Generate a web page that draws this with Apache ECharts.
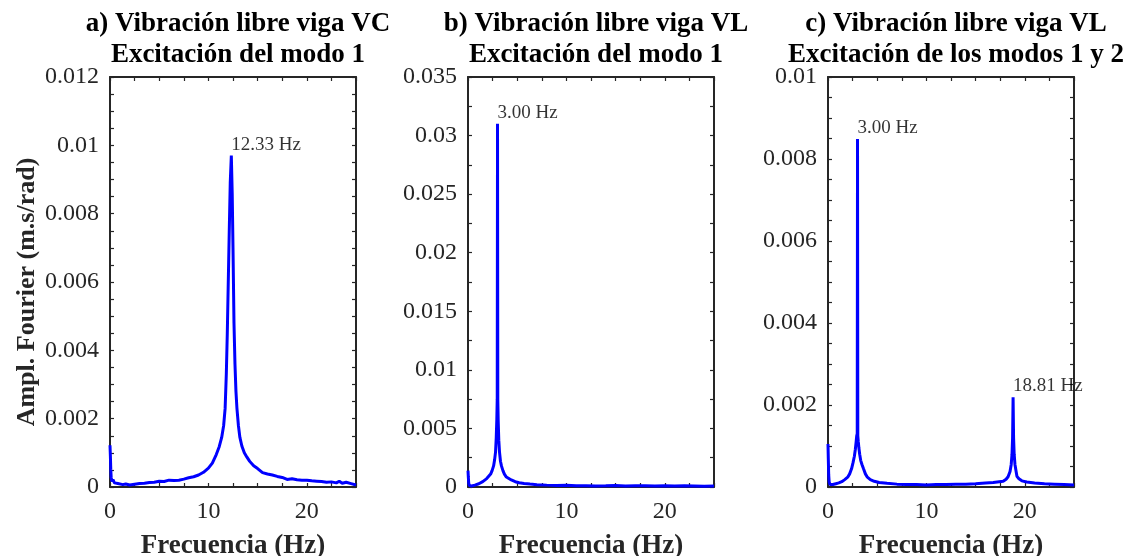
<!DOCTYPE html>
<html>
<head>
<meta charset="utf-8">
<title>Espectros de Fourier</title>
<script src="https://cdn.jsdelivr.net/npm/echarts@6/dist/echarts.min.js"></script>
<style>
  html, body { margin: 0; padding: 0; background: #fff; }
  #chart { width: 1123px; height: 556px; }
</style>
</head>
<body>
<div id="chart"></div>
<script>
// Panel titles (two lines each)
const titles = [
  'a) Vibración libre viga VC\nExcitación del modo 1',
  'b) Vibración libre viga VL\nExcitación del modo 1',
  'c) Vibración libre viga VL\nExcitación de los modos 1 y 2'
];
const xName = 'Frecuencia (Hz)';
const yName = 'Ampl. Fourier (m.s/rad)';

// Axis ranges and tick steps: [max, tick step, labelled step]
const xRange = [25, 2.5, 10];
const yRanges = [
  [0.012, 0.0005, 0.002],
  [0.035, 0.0025, 0.005],
  [0.01, 0.0005, 0.002]
];

// a) Beam VC, mode 1 excitation: frequency (Hz) and Fourier amplitude
const freqA = [0, 0.04, 0.08, 0.12, 0.2, 0.3, 0.45, 0.6, 0.8, 1.0, 1.3, 1.6, 2.0, 2.5, 3.0, 3.5, 4.0, 4.5, 5.0, 5.5, 6.0, 6.5, 7.0, 7.5, 8.0, 8.5, 9.0, 9.5, 10.0, 10.4, 10.8, 11.1, 11.35, 11.55, 11.7, 11.82, 11.92, 12.02, 12.12, 12.22, 12.33, 12.42, 12.5, 12.6, 12.7, 12.8, 12.9, 13.05, 13.2, 13.4, 13.65, 13.9, 14.2, 14.6, 15.0, 15.5, 16.0, 16.5, 17.0, 17.5, 18.0, 18.5, 19.0, 19.5, 20.0, 20.5, 21.0, 21.5, 22.0, 22.5, 23.0, 23.3, 23.6, 24.0, 24.5, 25.0];
const ampA = [0.00122, 0.0009, 0.0005, 0.00028, 0.00016, 0.00022, 0.00012, 0.00016, 0.0001, 0.00012, 0.00007, 0.00009, 0.00006, 0.00008, 0.0001, 0.00011, 0.00013, 0.00014, 0.00017, 0.00016, 0.0002, 0.00019, 0.0002, 0.00023, 0.00027, 0.0003, 0.00035, 0.00043, 0.00055, 0.0007, 0.00095, 0.00118, 0.00145, 0.0018, 0.0023, 0.0033, 0.0045, 0.006, 0.0075, 0.0089, 0.0097, 0.0086, 0.007, 0.0048, 0.0036, 0.0028, 0.0023, 0.0018, 0.00145, 0.0012, 0.001, 0.00088, 0.00075, 0.00062, 0.00054, 0.00042, 0.00038, 0.00035, 0.00031, 0.00028, 0.00022, 0.00024, 0.00021, 0.0002, 0.0002, 0.00018, 0.00017, 0.00016, 0.00014, 0.00015, 0.00012, 0.00017, 0.00011, 0.00014, 0.0001, 0.00006];

// b) Beam VL, mode 1 excitation
const freqB = [0, 0.03, 0.07, 0.12, 0.2, 0.35, 0.5, 0.7, 0.9, 1.1, 1.3, 1.5, 1.7, 1.9, 2.1, 2.3, 2.45, 2.6, 2.7, 2.8, 2.87, 2.93, 2.97, 3.0, 3.03, 3.07, 3.13, 3.2, 3.3, 3.4, 3.55, 3.7, 3.9, 4.1, 4.4, 4.8, 5.2, 5.7, 6.3, 7.0, 8.0, 9.0, 10.0, 11.0, 12.0, 13.0, 14.0, 15.0, 16.0, 17.0, 18.0, 19.0, 20.0, 21.0, 22.0, 23.0, 24.0, 25.0];
const ampB = [0.0014, 0.0009, 0.00035, 0.00015, 0.0001, 0.00008, 0.00012, 0.00016, 0.0002, 0.00028, 0.00036, 0.00046, 0.0006, 0.00072, 0.00088, 0.0011, 0.0014, 0.0018, 0.0023, 0.003, 0.0042, 0.0058, 0.0075, 0.031, 0.0074, 0.0056, 0.004, 0.003, 0.0022, 0.0018, 0.0014, 0.0011, 0.00085, 0.0007, 0.0006, 0.00045, 0.00036, 0.0003, 0.00025, 0.0002, 0.00016, 0.00013, 0.00014, 0.0001, 0.00011, 0.00009, 0.0001, 0.00012, 0.00008, 0.0001, 0.00011, 0.00009, 0.0001, 0.00008, 0.0001, 0.00009, 0.00007, 0.00008];

// c) Beam VL, modes 1 and 2 excitation
const freqC = [0, 0.03, 0.07, 0.12, 0.2, 0.35, 0.5, 0.8, 1.1, 1.4, 1.7, 2.0, 2.2, 2.4, 2.55, 2.68, 2.78, 2.86, 2.92, 2.97, 3.0, 3.03, 3.08, 3.14, 3.22, 3.32, 3.45, 3.6, 3.8, 4.0, 4.3, 4.7, 5.2, 6.0, 7.0, 8.0, 9.0, 10.0, 11.0, 12.0, 13.0, 14.0, 15.0, 16.0, 16.8, 17.4, 17.8, 18.1, 18.3, 18.5, 18.62, 18.7, 18.76, 18.81, 18.86, 18.92, 19.0, 19.1, 19.2, 19.4, 19.7, 20.2, 21.0, 22.0, 23.0, 24.0, 25.0];
const ampC = [0.00105, 0.0007, 0.0003, 0.00012, 0.00006, 0.00005, 0.00006, 0.00008, 0.0001, 0.00013, 0.00018, 0.00024, 0.00032, 0.00045, 0.0006, 0.00075, 0.00092, 0.0011, 0.00125, 0.0013, 0.00849, 0.00125, 0.0011, 0.00095, 0.0008, 0.00065, 0.00055, 0.00045, 0.00032, 0.00024, 0.00018, 0.00014, 0.00011, 0.00009, 0.00007, 0.00006, 0.00006, 0.00005, 0.00006, 0.00006, 0.00007, 0.00007, 0.00008, 0.0001, 0.00011, 0.00013, 0.00014, 0.00019, 0.00025, 0.00038, 0.00055, 0.0008, 0.0012, 0.00219, 0.0012, 0.0008, 0.00055, 0.0004, 0.00026, 0.0002, 0.00015, 0.00012, 0.0001, 0.00008, 0.00007, 0.00006, 0.00005];

// Search windows (Hz) for the annotated peaks of each panel
const peakWindows = [
  [[10, 15]],
  [[2, 4]],
  [[2, 4], [17, 20]]
];

const spectra = [[freqA, ampA], [freqB, ampB], [freqC, ampC]];

// Plot layout
const gridLefts = [110, 468, 828];
const gridWidth = 246;
const gridTop = 77;
const gridHeight = 410;

const INK = '#262626';
const SERIF = '"Liberation Serif", "Times New Roman", serif';

function isMultiple(v, step) {
  const r = v / step;
  return Math.abs(r - Math.round(r)) < 1e-6;
}
function tickText(step) {
  return function (v) {
    return isMultiple(v, step) ? String(parseFloat(v.toFixed(4))) : '';
  };
}
function peakIn(freqs, amps, lo, hi) {
  let best = -1;
  for (let i = 0; i < freqs.length; i++) {
    if (freqs[i] >= lo && freqs[i] <= hi && (best < 0 || amps[i] > amps[best])) best = i;
  }
  return [freqs[best], amps[best]];
}

const grids = [], xAxes = [], yAxes = [], series = [], titleList = [];
const frameLine = { show: true, onZero: false, lineStyle: { color: INK, width: 2 } };
const innerTick = { show: true, inside: true, length: 4, lineStyle: { color: INK, width: 1.2 } };

spectra.forEach(function (pair, k) {
  const [fr, am] = pair;
  const [yMax, yStep, yLabelStep] = yRanges[k];
  grids.push({
    left: gridLefts[k], top: gridTop, width: gridWidth, height: gridHeight,
    containLabel: false, outerBoundsMode: 'none'
  });

  // bottom and top x axes
  xAxes.push({
    type: 'value', gridIndex: k, position: 'bottom', min: 0, max: xRange[0], interval: xRange[1],
    axisLine: frameLine, axisTick: innerTick, splitLine: { show: false },
    axisLabel: { formatter: tickText(xRange[2]), color: INK, fontFamily: SERIF, fontSize: 24, margin: 13 },
    name: xName, nameLocation: 'middle', nameGap: 46,
    nameTextStyle: { fontFamily: SERIF, fontSize: 27, fontWeight: 'bold', color: INK }
  });
  xAxes.push({
    type: 'value', gridIndex: k, position: 'top', min: 0, max: xRange[0], interval: xRange[1],
    axisLine: frameLine, axisTick: innerTick, splitLine: { show: false }, axisLabel: { show: false }
  });

  // left and right y axes
  const yLeft = {
    type: 'value', gridIndex: k, position: 'left', min: 0, max: yMax, interval: yStep,
    axisLine: frameLine, axisTick: innerTick, splitLine: { show: false },
    axisLabel: { formatter: tickText(yLabelStep), color: INK, fontFamily: SERIF, fontSize: 24, margin: 11 }
  };
  if (k === 0) {
    yLeft.name = yName;
    yLeft.nameLocation = 'middle';
    yLeft.nameGap = 70;
    yLeft.nameTextStyle = { fontFamily: SERIF, fontSize: 26, fontWeight: 'bold', color: INK, padding: [0, 20, 0, 0] };
  }
  yAxes.push(yLeft);
  yAxes.push({
    type: 'value', gridIndex: k, position: 'right', min: 0, max: yMax, interval: yStep,
    axisLine: frameLine, axisTick: innerTick, splitLine: { show: false }, axisLabel: { show: false }
  });

  // spectrum line
  series.push({
    type: 'line', xAxisIndex: 2 * k, yAxisIndex: 2 * k,
    data: fr.map(function (f, i) { return [f, am[i]]; }),
    showSymbol: false, symbol: 'none', smooth: false, sampling: null,
    lineStyle: { color: '#0000ff', width: 3 }, z: 2
  });

  // peak frequency annotations
  series.push({
    type: 'scatter', xAxisIndex: 2 * k, yAxisIndex: 2 * k,
    data: peakWindows[k].map(function (w) { return peakIn(fr, am, w[0], w[1]); }),
    symbolSize: 1, itemStyle: { color: 'rgba(0,0,0,0)' }, z: 3,
    label: {
      show: true, position: 'top', align: 'left', distance: 1,
      formatter: function (p) { return p.value[0].toFixed(2) + ' Hz'; },
      fontFamily: SERIF, fontSize: 19, color: '#000'
    }
  });

  titleList.push({
    text: titles[k], left: gridLefts[k] + gridWidth / 2, top: 4, textAlign: 'center',
    textStyle: { fontFamily: SERIF, fontSize: 27, fontWeight: 'bold', color: '#000', lineHeight: 31 }
  });
});

const chart = echarts.init(document.getElementById('chart'), null, { renderer: 'canvas' });
chart.setOption({
  animation: false,
  backgroundColor: '#fff',
  title: titleList,
  grid: grids,
  xAxis: xAxes,
  yAxis: yAxes,
  series: series
});
</script>
</body>
</html>
